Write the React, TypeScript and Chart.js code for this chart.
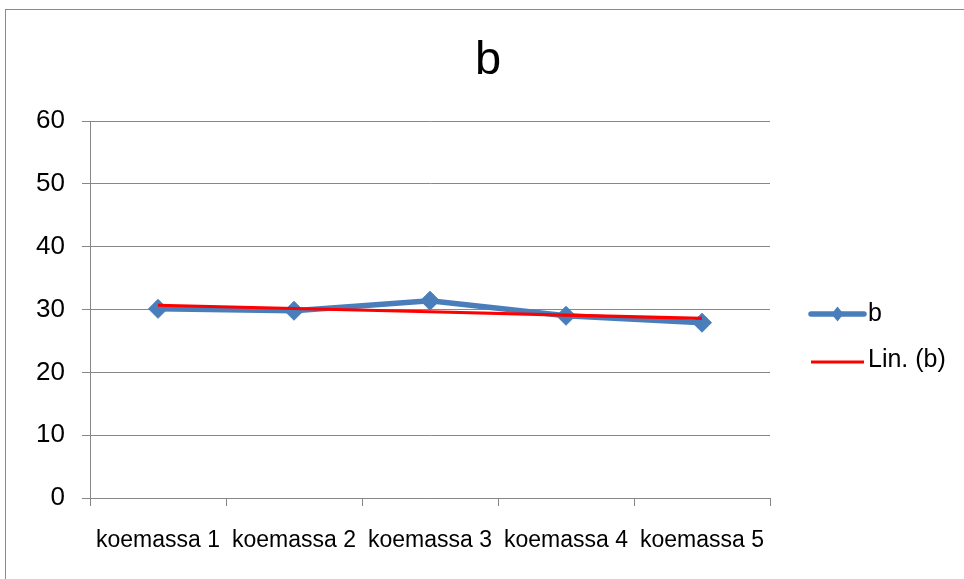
import React, { useEffect, useRef } from "react";
import { Chart, registerables } from "chart.js";

Chart.register(...registerables);

// Test rounds
const categories: string[] = ["koemassa 1", "koemassa 2", "koemassa 3", "koemassa 4", "koemassa 5"];
// Measured values of b per round
const bValues: number[] = [30.1, 29.8, 31.4, 29.0, 27.9];
// Value axis
const yMin = 0;
const yMax = 60;
const yStep = 10;

const chartTitle = "b";
const seriesLabel = "b";
const trendLabel = "Lin. (b)";

const FONT = "'Liberation Sans', Arial, sans-serif";
const BLUE = "#4A7EBB";
const RED = "#FF0000";
const GRID = "#878787";

// Least-squares linear trend over the category index (1..n)
function linearTrend(values: number[]): number[] {
  const n = values.length;
  const xs = values.map((_, i) => i + 1);
  const mx = xs.reduce((a, b) => a + b, 0) / n;
  const my = values.reduce((a, b) => a + b, 0) / n;
  let num = 0;
  let den = 0;
  xs.forEach((x, i) => {
    num += (x - mx) * (values[i] - my);
    den += (x - mx) * (x - mx);
  });
  const slope = num / den;
  const intercept = my - slope * mx;
  return xs.map((x) => intercept + slope * x);
}

// Frame, title and the legend on the right
const decorPlugin = {
  id: "decor",
  beforeDraw(chart: any) {
    const { ctx } = chart;
    ctx.save();
    ctx.fillStyle = "#ffffff";
    ctx.fillRect(0, 0, chart.width, chart.height);
    ctx.strokeStyle = "#8a8a8a";
    ctx.lineWidth = 1;
    ctx.strokeRect(5.5, 9.5, chart.width + 10, chart.height + 10);
    ctx.restore();
  },
  afterDraw(chart: any) {
    const { ctx } = chart;
    ctx.save();
    // title
    ctx.fillStyle = "#000000";
    ctx.font = `47px ${FONT}`;
    ctx.textAlign = "center";
    ctx.textBaseline = "alphabetic";
    ctx.fillText(chartTitle, 488, 74);

    // legend
    const rows = [314, 362];
    const x0 = 811;
    const x1 = 864;
    chart.data.datasets.forEach((ds: any, i: number) => {
      const y = rows[i];
      ctx.strokeStyle = ds.borderColor;
      ctx.lineWidth = i === 0 ? 5.5 : 3;
      ctx.lineCap = i === 0 ? "round" : "butt";
      ctx.beginPath();
      ctx.moveTo(x0, y);
      ctx.lineTo(x1, y);
      ctx.stroke();
      if (ds.pointStyle === "rectRot" && ds.pointRadius > 0) {
        const rx = 6;
        const ry = 7.5;
        const cx = (x0 + x1) / 2;
        ctx.fillStyle = ds.pointBackgroundColor;
        ctx.beginPath();
        ctx.moveTo(cx - rx, y);
        ctx.lineTo(cx, y - ry);
        ctx.lineTo(cx + rx, y);
        ctx.lineTo(cx, y + ry);
        ctx.closePath();
        ctx.fill();
      }
      ctx.fillStyle = "#000000";
      ctx.font = `25px ${FONT}`;
      ctx.textAlign = "left";
      ctx.textBaseline = "middle";
      ctx.fillText(ds.label, 868, i === 0 ? y : y - 2);
    });
    ctx.restore();
  },
};

export default function App() {
  const canvasRef = useRef<HTMLCanvasElement | null>(null);

  useEffect(() => {
    const canvas = canvasRef.current;
    if (!canvas) return;
    const trend = linearTrend(bValues);
    const chart = new Chart(canvas, {
      type: "line",
      data: {
        labels: categories,
        datasets: [
          {
            label: seriesLabel,
            data: bValues,
            borderColor: BLUE,
            backgroundColor: BLUE,
            borderWidth: 5.5,
            pointStyle: "rectRot",
            pointRadius: 9.5,
            pointBackgroundColor: BLUE,
            pointBorderColor: BLUE,
            pointBorderWidth: 1,
            tension: 0,
            order: 2,
          },
          {
            label: trendLabel,
            data: trend,
            borderColor: RED,
            backgroundColor: RED,
            borderWidth: 3.2,
            pointRadius: 0,
            pointStyle: "line",
            tension: 0,
            order: 1,
          },
        ],
      },
      options: {
        responsive: false,
        maintainAspectRatio: false,
        animation: false,
        events: [],
        layout: { padding: { left: 0, top: 121, right: 194, bottom: 0 } },
        plugins: {
          legend: { display: false },
          title: { display: false },
          tooltip: { enabled: false },
        },
        scales: {
          x: {
            type: "category",
            offset: true,
            grid: {
              display: true,
              offset: true,
              drawOnChartArea: false,
              drawTicks: true,
              tickLength: 8,
              color: GRID,
              lineWidth: 1,
            },
            border: { display: true, color: GRID, width: 1 },
            ticks: {
              autoSkip: false,
              maxRotation: 0,
              minRotation: 0,
              padding: 21,
              color: "#000000",
              font: { family: FONT, size: 23 },
            },
            afterFit: (scale: any) => {
              scale.height = 81;
            },
          },
          y: {
            min: yMin,
            max: yMax,
            grid: {
              color: GRID,
              lineWidth: 1,
              drawTicks: true,
              tickLength: 8,
            },
            border: { display: true, color: GRID, width: 1 },
            ticks: {
              stepSize: yStep,
              padding: 17,
              color: "#000000",
              font: { family: FONT, size: 26 },
            },
            afterFit: (scale: any) => {
              scale.width = 90;
            },
          },
        },
      },
      plugins: [decorPlugin],
    });
    return () => chart.destroy();
  }, []);

  return (
    <div style={{ position: "fixed", left: 0, top: 0, width: 964, height: 579, background: "#ffffff" }}>
      <canvas ref={canvasRef} width={964} height={579} style={{ display: "block", width: 964, height: 579 }} />
    </div>
  );
}
